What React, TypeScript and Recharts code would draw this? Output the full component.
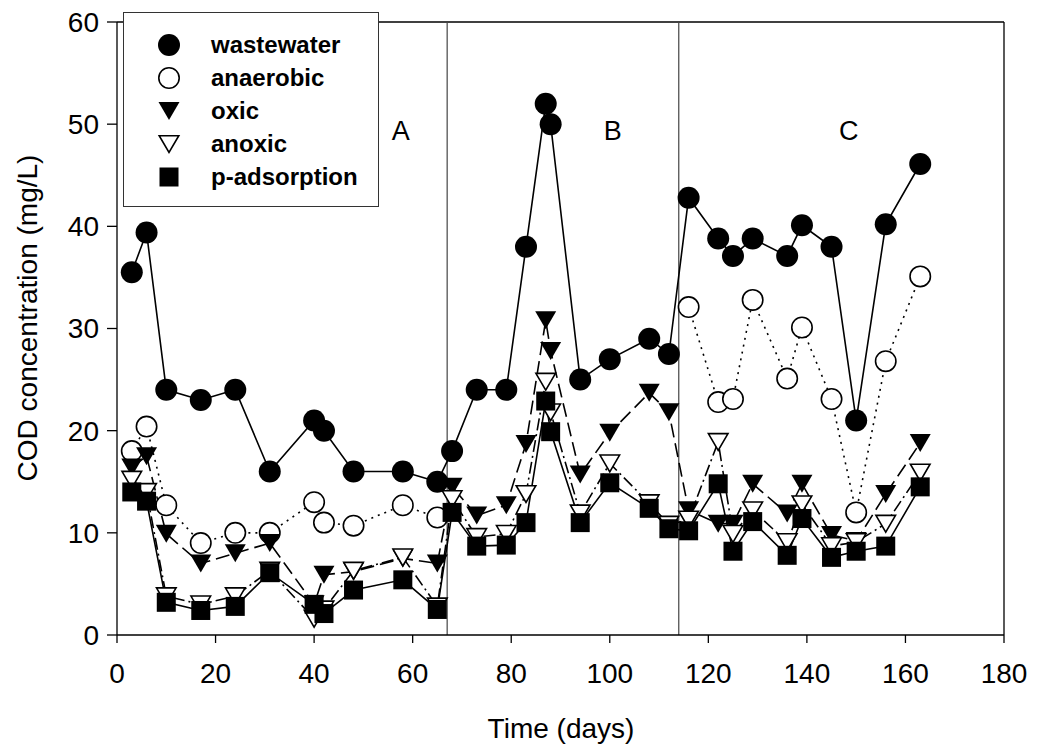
import { LineChart, Line, XAxis, YAxis, ReferenceLine, ReferenceDot, Legend, Label } from 'recharts';

// sampling days
const days = [3, 6, 10, 17, 24, 31, 40, 42, 48, 58, 65, 68, 73, 79, 83, 87, 88, 94, 100, 108, 112, 116, 122, 125, 129, 136, 139, 145, 150, 156, 163];

// COD (mg/L) per reactor stage
const wastewater = [35.5, 39.4, 24, 23, 24, 16, 21, 20, 16, 16, 15, 18, 24, 24, 38, 52, 50, 25, 27, 29, 27.5, 42.8, 38.8, 37.1, 38.8, 37.1, 40.1, 38, 21, 40.2, 46.1];
const anaerobic = [18, 20.4, 12.7, 9, 10, 10, 13, 11, 10.7, 12.7, 11.5, null, null, null, null, null, null, null, null, null, null, 32.1, 22.8, 23.1, 32.8, 25.1, 30.1, 23.1, 12, 26.8, 35.1];
const oxic = [16.4, 17.5, 9.9, 7, 8, 9, 3, 5.9, 6.2, 7.5, 7, 14.5, 11.7, 12.7, 18.7, 30.8, 27.8, 15.7, 19.8, 23.7, 21.8, 12.2, 10.9, 10.9, 14.8, 11.9, 14.8, 9.8, 9.2, 13.8, 18.8];
const anoxic = [15.2, 14, 3.8, 3, 3.8, 6.3, 1.6, 2.5, 6.3, 7.6, 2.8, 13.3, 9.6, 9.9, 13.8, 24.8, 21.8, 11.9, 16.8, 12.9, 10.8, 11.3, 18.9, 9.9, 12.2, 9.1, 12.8, 8.7, 9.1, 10.9, 15.9];
const pAdsorption = [14, 13.1, 3.2, 2.4, 2.8, 6.1, 3, 2.1, 4.4, 5.4, 2.5, 12, 8.7, 8.8, 11, 22.9, 19.9, 11, 14.9, 12.4, 10.4, 10.2, 14.8, 8.2, 11.1, 7.8, 11.4, 7.6, 8.2, 8.7, 14.5];

const xTicks = [0, 20, 40, 60, 80, 100, 120, 140, 160, 180];
const yTicks = [0, 10, 20, 30, 40, 50, 60];

// phase boundaries and labels
const phaseBounds = [67, 114];
const phaseLabels = [
  { text: 'A', day: 57.6, cod: 49.4 },
  { text: 'B', day: 100.6, cod: 49.4 },
  { text: 'C', day: 148.5, cod: 49.4 },
];

const data = days.map((day, i) => ({
  day,
  wastewater: wastewater[i],
  anaerobic: anaerobic[i],
  oxic: oxic[i],
  anoxic: anoxic[i],
  pAdsorption: pAdsorption[i],
}));

type Shape = 'circle' | 'ring' | 'tri' | 'triOpen' | 'square';

const series: { key: string; name: string; shape: Shape; dash?: string }[] = [
  { key: 'wastewater', name: 'wastewater', shape: 'circle' },
  { key: 'anaerobic', name: 'anaerobic', shape: 'ring', dash: '2 5' },
  { key: 'oxic', name: 'oxic', shape: 'tri', dash: '14 6' },
  { key: 'anoxic', name: 'anoxic', shape: 'triOpen', dash: '12 4 2 4' },
  { key: 'pAdsorption', name: 'p-adsorption', shape: 'square' },
];

const FONT = 'Arial, "Liberation Sans", Helvetica, sans-serif';

function Marker({ shape, cx, cy }: { shape: Shape; cx: number; cy: number }) {
  switch (shape) {
    case 'circle':
      return <circle cx={cx} cy={cy} r={11} fill="#000" />;
    case 'ring':
      return <circle cx={cx} cy={cy} r={10.2} fill="#fff" stroke="#000" strokeWidth={1.6} />;
    case 'tri':
      return <polygon points={`${cx - 10.5},${cy - 9} ${cx + 10.5},${cy - 9} ${cx},${cy + 9}`} fill="#000" />;
    case 'triOpen':
      return (
        <polygon
          points={`${cx - 9.8},${cy - 8.3} ${cx + 9.8},${cy - 8.3} ${cx},${cy + 8.5}`}
          fill="#fff"
          stroke="#000"
          strokeWidth={1.6}
        />
      );
    default:
      return <rect x={cx - 9.5} y={cy - 9.5} width={19} height={19} fill="#000" />;
  }
}

function renderDot(shape: Shape) {
  return (p: any) => {
    if (p.cx == null || p.cy == null || p.value == null || Number.isNaN(p.cy)) {
      return <g key={p.key ?? p.index} />;
    }
    return (
      <g key={p.key ?? p.index}>
        <Marker shape={shape} cx={p.cx} cy={p.cy} />
      </g>
    );
  };
}

function LegendBox() {
  return (
    <div
      style={{
        width: 256,
        height: 195,
        border: '1px solid #333',
        background: '#fff',
        boxSizing: 'border-box',
        paddingTop: 15,
      }}
    >
      {series.map((s) => (
        <div key={s.key} style={{ display: 'flex', alignItems: 'center', height: 33 }}>
          <svg width={30} height={30} style={{ marginLeft: 30, marginRight: 27 }}>
            <Marker shape={s.shape} cx={15} cy={15} />
          </svg>
          <span style={{ fontFamily: FONT, fontWeight: 'bold', fontSize: 24, color: '#000', lineHeight: '24px' }}>
            {s.name}
          </span>
        </div>
      ))}
    </div>
  );
}

export default function App() {
  return (
    <div style={{ position: 'absolute', left: 0, top: 0, width: 1039, height: 749, background: '#fff' }}>
      <LineChart width={1039} height={749} data={data} margin={{ top: 22, right: 35, bottom: 0, left: 0 }}>
        <XAxis
          dataKey="day"
          type="number"
          domain={[0, 180]}
          ticks={xTicks}
          height={114}
          tickSize={8}
          tickMargin={20}
          stroke="#000"
          strokeWidth={1.3}
          tick={{ fill: '#000', fontSize: 28, fontFamily: FONT }}
        >
          <Label
            content={() => (
              <text x={561} y={738} textAnchor="middle" fontSize={28} fontFamily={FONT} fill="#000">
                Time (days)
              </text>
            )}
          />
        </XAxis>
        <YAxis
          type="number"
          domain={[0, 60]}
          ticks={yTicks}
          width={117}
          tickSize={10}
          tickMargin={8}
          stroke="#000"
          strokeWidth={1.3}
          tick={{ fill: '#000', fontSize: 28, fontFamily: FONT }}
        >
          <Label
            content={() => (
              <text
                x={37}
                y={318}
                transform="rotate(-90 37 318)"
                textAnchor="middle"
                fontSize={28}
                fontFamily={FONT}
                fill="#000"
              >
                COD concentration (mg/L)
              </text>
            )}
          />
        </YAxis>
        <ReferenceLine y={60} stroke="#000" strokeWidth={1.3} />
        <ReferenceLine x={180} stroke="#000" strokeWidth={1.3} />
        {phaseBounds.map((d) => (
          <ReferenceLine key={d} x={d} stroke="#444" strokeWidth={1.2} />
        ))}
        {phaseLabels.map((p) => (
          <ReferenceDot
            key={p.text}
            x={p.day}
            y={p.cod}
            r={0}
            fill="none"
            stroke="none"
            label={{ value: p.text, position: 'center', fontSize: 27, fontFamily: FONT, fill: '#000' }}
          />
        ))}
        {series.map((s) => (
          <Line
            key={s.key}
            dataKey={s.key}
            name={s.name}
            type="linear"
            stroke="#000"
            strokeWidth={1.6}
            strokeDasharray={s.dash}
            dot={renderDot(s.shape)}
            activeDot={false}
            isAnimationActive={false}
          />
        ))}
        <Legend
          layout="vertical"
          align="center"
          verticalAlign="middle"
          content={() => <LegendBox />}
          wrapperStyle={{ left: 123, top: 12, width: 256, height: 195 }}
        />
      </LineChart>
    </div>
  );
}
